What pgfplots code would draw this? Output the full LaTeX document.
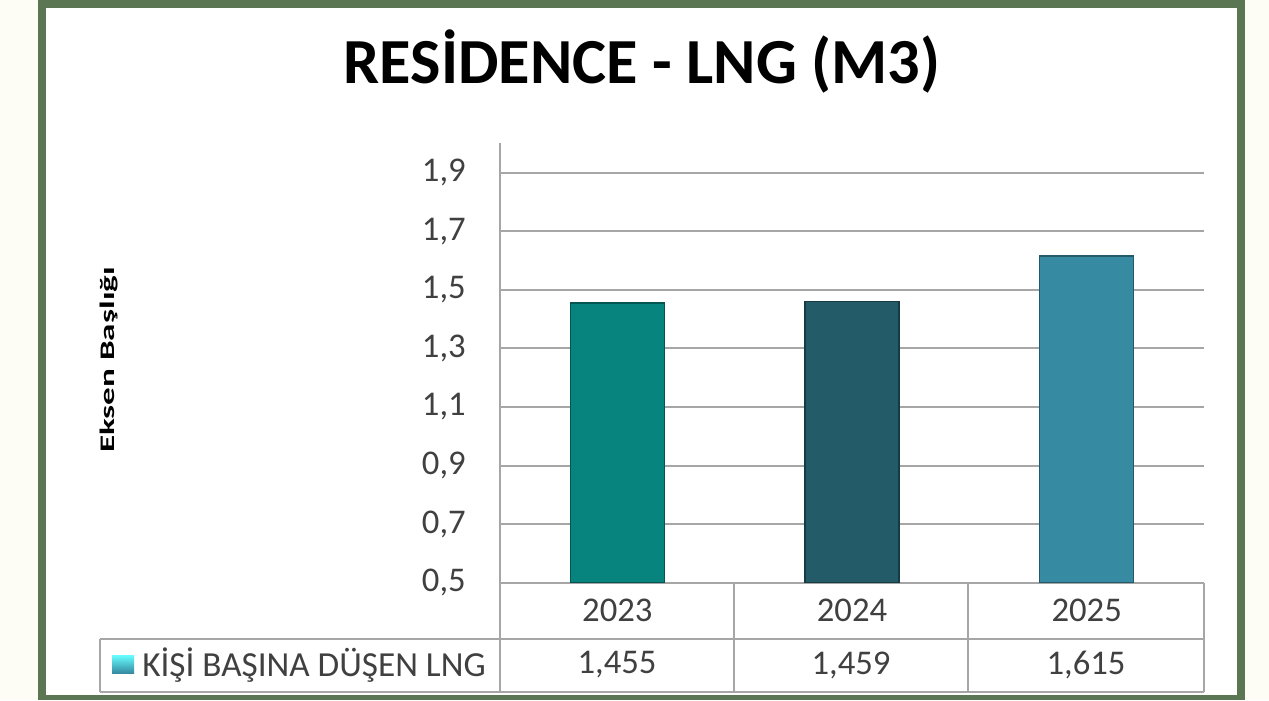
\documentclass[border=0pt]{standalone}
\usepackage{pgfplots}
\pgfplotsset{compat=1.18}
\usepackage{fontspec}
\setmainfont{Carlito}
\definecolor{frame}{HTML}{5A7652}
\definecolor{outerbg}{HTML}{FDFDF6}
\definecolor{gridc}{HTML}{A6A6A6}
\definecolor{txt}{HTML}{404040}
\definecolor{barA}{HTML}{08847F}
\definecolor{barB}{HTML}{245B69}
\definecolor{barC}{HTML}{368AA1}
\begin{document}
\begin{tikzpicture}
\begin{scope}[x=0.75pt,y=-0.75pt]
\fill[outerbg] (0,0) rectangle (1269,700);
\fill[frame] (38,0) rectangle (1245,700);
\fill[white] (46,7.5) rectangle (1237,695);
\node[anchor=base, inner sep=0pt, font=\bfseries\fontsize{48.2pt}{52pt}\selectfont] at (642,83) {RESİDENCE - LNG (M3)};
\node[rotate=90, inner sep=0pt, font=\bfseries\fontsize{15.5pt}{18pt}\selectfont] at (109,360) {\scalebox{1.7}[1]{Eksen Başlığı}};
\end{scope}
\begin{axis}[
  at={(375pt,-437.025pt)}, anchor=south west,
  scale only axis, width=528pt, height=329.6pt,
  xmin=-0.5, xmax=2.5, ymin=0.5, ymax=2.0,
  axis x line=bottom, axis y line=left,
  axis line style={-, gridc, line width=1.5pt},
  ytick={0.5,0.7,0.9,1.1,1.3,1.5,1.7,1.9},
  xtick={0,1,2}, xticklabels={2023,2024,2025},
  major tick length=0pt,
  ymajorgrids, grid style={gridc, line width=1.5pt},
  /pgf/number format/.cd, use comma, fixed, fixed zerofill, precision=1, assume math mode=true,
  /pgfplots/.cd,
  yticklabel style={anchor=east, inner sep=0pt, xshift=-25.5pt, font=\fontsize{26pt}{30pt}\selectfont, text=txt},
  xticklabel style={anchor=center, inner sep=0pt, yshift=-21pt, font=\fontsize{26pt}{30pt}\selectfont, text=txt},
]
\addplot[ybar, bar width=70.5pt, bar shift=0pt, fill=barA, draw=barA!65!black, line width=1pt] coordinates {(0,1.455)};
\addplot[ybar, bar width=70.5pt, bar shift=0pt, fill=barB, draw=barB!65!black, line width=1pt] coordinates {(1,1.459)};
\addplot[ybar, bar width=70.5pt, bar shift=0pt, fill=barC, draw=barC!65!black, line width=1pt] coordinates {(2,1.615)};
\end{axis}
\begin{scope}[x=0.75pt,y=-0.75pt]
\draw[gridc, line width=1.5pt] (100,639) -- (1204,639) (100,692) -- (1204,692) (100,639) -- (100,692)
  (500,583) -- (500,692) (734,583) -- (734,692) (968,583) -- (968,692) (1204,583) -- (1204,692);
\shade[top color=cyan!60!white, bottom color=barC] (112,655) rectangle (134,673);
\node[anchor=west, inner sep=0pt, text=txt, font=\fontsize{26.4pt}{30pt}\selectfont] at (142,665) {KİŞİ BAŞINA DÜŞEN LNG};
\node[inner sep=0pt, text=txt, font=\fontsize{26pt}{30pt}\selectfont] at (617,665) {1,455};
\node[inner sep=0pt, text=txt, font=\fontsize{26pt}{30pt}\selectfont] at (851,665) {1,459};
\node[inner sep=0pt, text=txt, font=\fontsize{26pt}{30pt}\selectfont] at (1086,665) {1,615};
\end{scope}
\pgfresetboundingbox
\path (0,0) rectangle (951.75pt,-525pt);
\end{tikzpicture}
\end{document}
